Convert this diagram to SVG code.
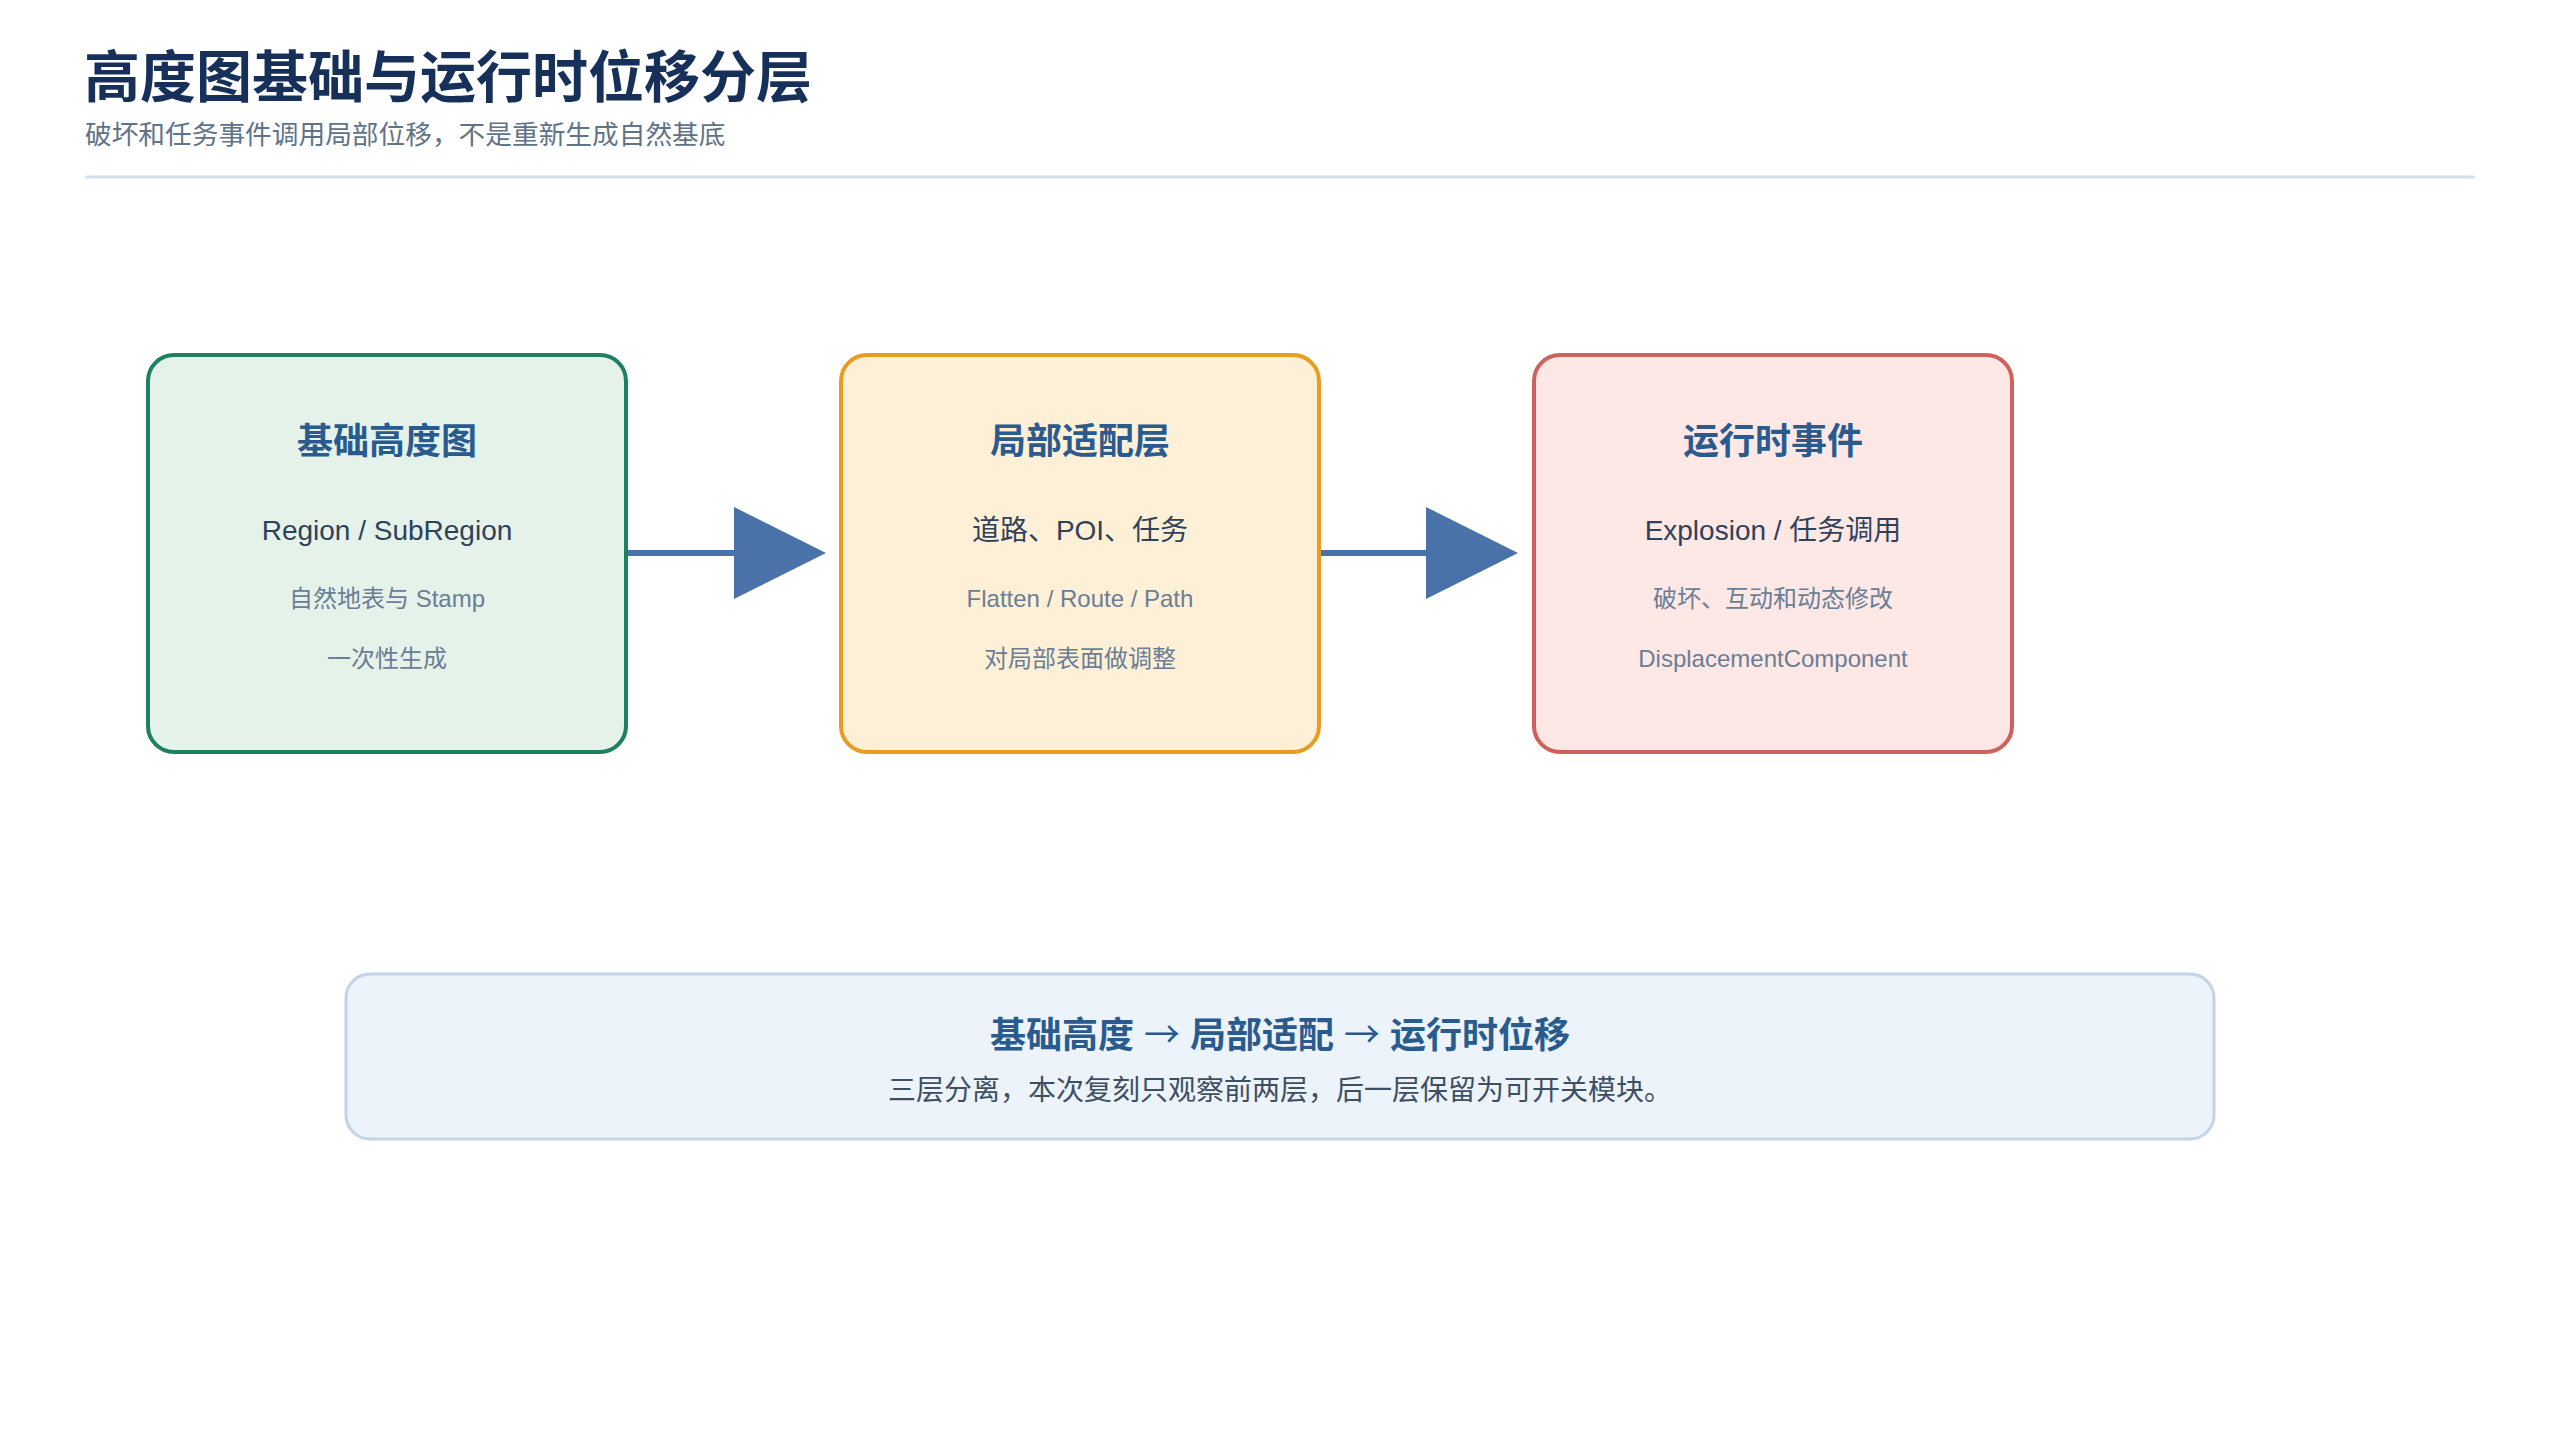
<svg xmlns="http://www.w3.org/2000/svg" width="2560" height="1440" viewBox="0 0 2560 1440">
<style>
text{font-family:"Liberation Sans","Noto Sans CJK SC",sans-serif;}
.title{font-size:56px;font-weight:bold;fill:#16305a;}
.sub{font-size:26.7px;fill:#5f7389;}
.nt{font-size:36px;font-weight:bold;fill:#2a5b8f;text-anchor:middle;}
.nl{font-size:28px;fill:#2f4259;text-anchor:middle;}
.ns{font-size:24px;fill:#6a7e95;text-anchor:middle;}
.box{stroke-width:4;}
.conn{stroke:#4872a8;stroke-width:6;fill:none;}
.bt{font-size:36px;font-weight:bold;fill:#2a5b8f;text-anchor:middle;}
.arr{font-family:"Noto Sans CJK SC",sans-serif;font-weight:normal;}
.bs{font-size:28px;fill:#3d4f63;text-anchor:middle;}
</style>
<defs>
<marker id="ah" viewBox="0 0 10 10" refX="0" refY="5" markerWidth="93" markerHeight="92" markerUnits="userSpaceOnUse" orient="auto">
<path d="M0,0 L10,5 L0,10 z" fill="#4872a8"/>
</marker>
</defs>
<rect width="2560" height="1440" fill="#ffffff"/>
<g id="header">
<text class="title" x="84" y="97">高度图基础与运行时位移分层</text>
<text class="sub" x="85" y="144">破坏和任务事件调用局部位移，不是重新生成自然基底</text>
<line x1="85" y1="177" x2="2475" y2="177" stroke="#d6e1ec" stroke-width="3"/>
</g>
<g id="connectors">
<line class="conn" x1="628" y1="553" x2="734" y2="553" marker-end="url(#ah)"/>
<line class="conn" x1="1320" y1="553" x2="1426" y2="553" marker-end="url(#ah)"/>
</g>
<g id="node-base">
<rect class="box" x="148" y="355" width="478" height="397" rx="26" fill="#e4f2ea" stroke="#1d8062"/>
<text class="nt" x="387" y="454">基础高度图</text>
<text class="nl" x="387" y="540">Region / SubRegion</text>
<text class="ns" x="387" y="607">自然地表与 Stamp</text>
<text class="ns" x="387" y="667">一次性生成</text>
</g>
<g id="node-local">
<rect class="box" x="841" y="355" width="478" height="397" rx="26" fill="#fef0d6" stroke="#e89c22"/>
<text class="nt" x="1080" y="454">局部适配层</text>
<text class="nl" x="1080" y="540">道路、POI、任务</text>
<text class="ns" x="1080" y="607">Flatten / Route / Path</text>
<text class="ns" x="1080" y="667">对局部表面做调整</text>
</g>
<g id="node-runtime">
<rect class="box" x="1534" y="355" width="478" height="397" rx="26" fill="#fde8e6" stroke="#d0615a"/>
<text class="nt" x="1773" y="454">运行时事件</text>
<text class="nl" x="1773" y="540">Explosion / 任务调用</text>
<text class="ns" x="1773" y="607">破坏、互动和动态修改</text>
<text class="ns" x="1773" y="667">DisplacementComponent</text>
</g>
<g id="summary">
<rect x="346" y="974" width="1868" height="165" rx="24" fill="#ecf3fb" stroke="#c2d3ea" stroke-width="3"/>
<text class="bt" x="1280" y="1048">基础高度 <tspan class="arr">→</tspan> 局部适配 <tspan class="arr">→</tspan> 运行时位移</text>
<text class="bs" x="1280" y="1100">三层分离，本次复刻只观察前两层，后一层保留为可开关模块。</text>
</g>
</svg>
